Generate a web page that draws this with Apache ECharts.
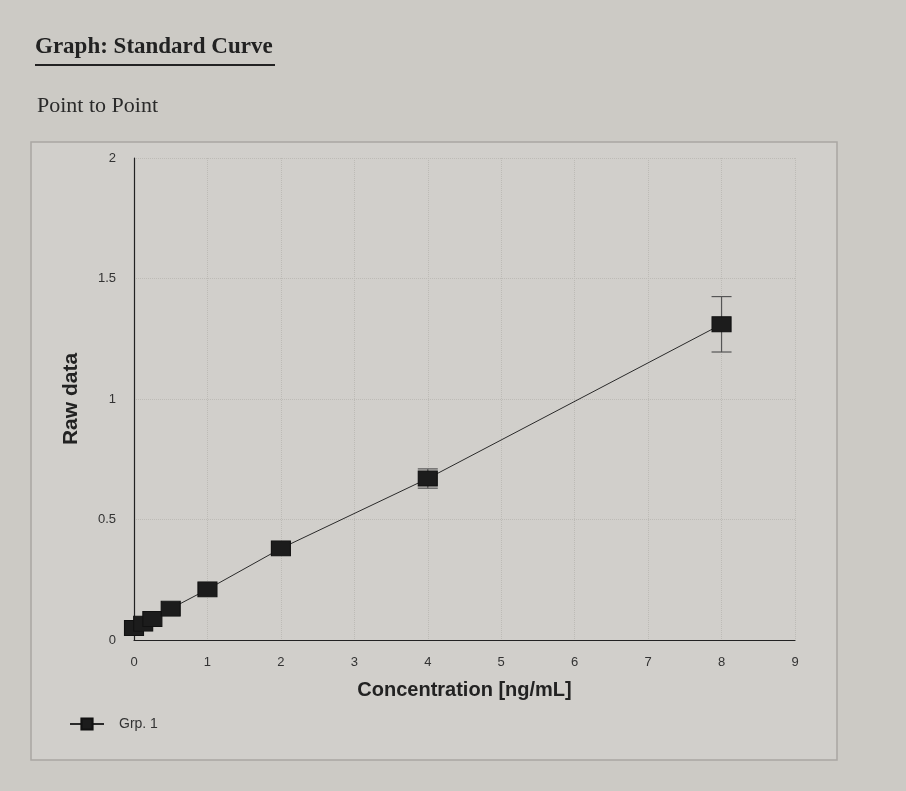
<!DOCTYPE html>
<html><head><meta charset="utf-8">
<script src="https://cdn.jsdelivr.net/npm/echarts@6/dist/echarts.min.js"></script>
<style>html,body{margin:0;padding:0;background:#cccac5;}#c{width:906px;height:791px;}</style>
</head><body><div id="c"></div>
<script>
const concentrations = [0, 0.125, 0.25, 0.5, 1, 2, 4, 8];
const rawValues = [0.05, 0.068, 0.087, 0.13, 0.21, 0.38, 0.67, 1.31];
const errValues = [0, 0, 0, 0, 0, 0, 0.04, 0.115];
const xTicks = [0,1,2,3,4,5,6,7,8,9];
const yTicks = [0,0.5,1,1.5,2];
const seriesName = 'Grp. 1';

const pts = concentrations.map((x,i)=>[x, rawValues[i]]);
const errs = concentrations.map((x,i)=>[x, rawValues[i]-errValues[i], rawValues[i]+errValues[i]]).filter((d,i)=>errValues[i]>0);

const chart = echarts.init(document.getElementById('c'));
chart.setOption({
  backgroundColor: '#cccac5',
  animation: false,
  graphic: [
    {type:'rect', shape:{x:31,y:142,width:806,height:618}, style:{fill:'#d1cfcb', stroke:'#a9a7a3', lineWidth:1.5}, z:-10},
    {type:'text', left:35, top:36, style:{text:'Graph: Standard Curve', font:'bold 23px "Liberation Serif", serif', fill:'#222'}},
    {type:'line', shape:{x1:35,y1:65,x2:275,y2:65}, style:{stroke:'#222', lineWidth:2}},
    {type:'text', left:37, top:95, style:{text:'Point to Point', font:'22px "Liberation Serif", serif', fill:'#2a2a2a'}}
  ],
  grid: {left:134, right:111, top:158, bottom:151, containLabel:false},
  legend: {
    data:[seriesName], left:64, top:712, orient:'vertical',
    itemWidth:34, itemHeight:14,
    textStyle:{fontFamily:'Liberation Sans, Arial', fontSize:14, color:'#333', padding:[0,0,0,10]}
  },
  xAxis: {
    type:'value', min:0, max:9, interval:1,
    name:'Concentration [ng/mL]', nameLocation:'middle', nameGap:40,
    nameTextStyle:{fontFamily:'Liberation Sans, Arial', fontWeight:'bold', fontSize:20, color:'#222'},
    axisLine:{show:true, onZero:false, lineStyle:{color:'#222', width:1.2}},
    axisTick:{show:false},
    axisLabel:{fontFamily:'Liberation Sans, Arial', fontSize:13, color:'#333', margin:16,
      formatter:(v)=> xTicks.includes(v) ? String(v) : ''},
    splitLine:{show:true, lineStyle:{color:'#bdbbb6', width:1, type:'dotted'}}
  },
  yAxis: {
    type:'value', min:0, max:2, interval:0.5,
    name:'Raw data', nameLocation:'middle', nameGap:52, nameRotate:90,
    nameTextStyle:{fontFamily:'Liberation Sans, Arial', fontWeight:'bold', fontSize:21, color:'#222'},
    axisLine:{show:true, onZero:false, lineStyle:{color:'#222', width:1.2}},
    axisTick:{show:false},
    axisLabel:{fontFamily:'Liberation Sans, Arial', fontSize:13, color:'#333', margin:18,
      formatter:(v)=> yTicks.includes(v) ? String(v) : ''},
    splitLine:{show:true, lineStyle:{color:'#bdbbb6', width:1, type:'dotted'}}
  },
  series: [
    {
      type:'custom', name:'err', silent:true, data:errs, z:1,
      renderItem:(params, api)=>{
        const x = api.value(0), lo = api.value(1), hi = api.value(2);
        const pLo = api.coord([x, lo]), pHi = api.coord([x, hi]);
        const w = 10;
        const st = {stroke:'#555', lineWidth:1.2};
        return {type:'group', children:[
          {type:'line', shape:{x1:pLo[0],y1:pLo[1],x2:pHi[0],y2:pHi[1]}, style:st},
          {type:'line', shape:{x1:pLo[0]-w,y1:pLo[1],x2:pLo[0]+w,y2:pLo[1]}, style:st},
          {type:'line', shape:{x1:pHi[0]-w,y1:pHi[1],x2:pHi[0]+w,y2:pHi[1]}, style:st}
        ]};
      }
    },
    {
      type:'line', name:seriesName, data:pts, z:3,
      symbol:'rect', symbolSize:[19,15], showAllSymbol:true,
      lineStyle:{color:'#2a2a2a', width:1},
      itemStyle:{color:'#1c1c1c', borderColor:'#111', borderWidth:1}
    }
  ]
});
</script></body></html>
